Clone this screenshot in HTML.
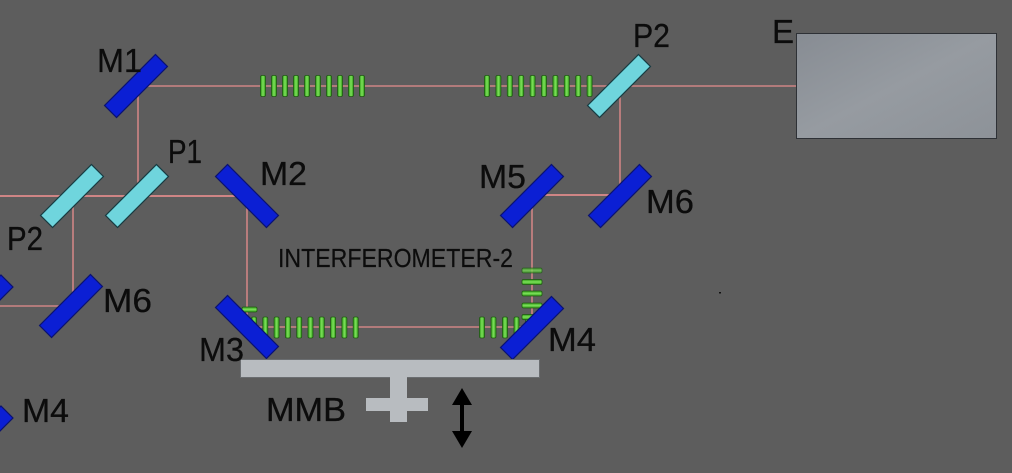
<!DOCTYPE html>
<html><head><meta charset="utf-8"><style>
html,body{margin:0;padding:0;background:#5d5d5d;}
svg{display:block;}
text{font-family:"Liberation Sans",sans-serif;fill:#0c0c0c;}
</style></head><body>
<svg width="1012" height="473" viewBox="0 0 1012 473" xmlns="http://www.w3.org/2000/svg">
<defs>
<linearGradient id="gb" x1="0" y1="0" x2="1" y2="0"><stop offset="0" stop-color="#2f9a18"/><stop offset="0.5" stop-color="#7ee35a"/><stop offset="1" stop-color="#2f9a18"/></linearGradient>
<linearGradient id="gh" x1="0" y1="0" x2="0" y2="1"><stop offset="0" stop-color="#2f9a18"/><stop offset="0.5" stop-color="#7ee35a"/><stop offset="1" stop-color="#2f9a18"/></linearGradient>
<linearGradient id="eb" x1="0" y1="0" x2="1" y2="1"><stop offset="0" stop-color="#878c93"/><stop offset="0.5" stop-color="#969ba1"/><stop offset="1" stop-color="#8d9298"/></linearGradient>
<g id="gv"><rect x="-2.5" y="-10.5" width="5" height="21" rx="1.5" fill="url(#gb)" stroke="#1f5a12" stroke-width="0.8"/></g>
<g id="ghz"><rect x="-10" y="-2.5" width="20" height="5" rx="1.5" fill="url(#gh)" stroke="#1f5a12" stroke-width="0.8"/></g>
<g id="mb"><rect x="-36" y="-8.5" width="72" height="17" fill="#0b1fd4" stroke="#0a1272" stroke-width="1.2"/></g>
<g id="pc"><rect x="-36" y="-8.5" width="72" height="17" fill="#6fd5dd" stroke="#183c42" stroke-width="1.2"/></g>
</defs>
<rect width="1012" height="473" fill="#5d5d5d"/>

<!-- beams -->
<g stroke="#cf8585" fill="none">
<line x1="138" y1="86" x2="797" y2="86" stroke-width="1.4"/>
<line x1="138" y1="86" x2="138" y2="196" stroke-width="1.6"/>
<line x1="0" y1="196" x2="247" y2="196" stroke-width="2"/>
<line x1="73" y1="196" x2="73" y2="306" stroke-width="1.6"/>
<line x1="0" y1="306" x2="71" y2="306" stroke-width="1.6"/>
<line x1="247" y1="196" x2="247" y2="327" stroke-width="1.6"/>
<line x1="247" y1="327" x2="532" y2="327" stroke-width="1.4"/>
<line x1="532" y1="196" x2="532" y2="327" stroke-width="1.6"/>
<line x1="532" y1="195" x2="620" y2="195" stroke-width="2"/>
<line x1="620" y1="86" x2="620" y2="196" stroke-width="1.6"/>
</g>

<!-- gratings top -->
<g>
<use href="#gv" x="263" y="86"/><use href="#gv" x="274" y="86"/><use href="#gv" x="285" y="86"/><use href="#gv" x="296" y="86"/><use href="#gv" x="307" y="86"/><use href="#gv" x="318" y="86"/><use href="#gv" x="329" y="86"/><use href="#gv" x="340" y="86"/><use href="#gv" x="351" y="86"/><use href="#gv" x="362" y="86"/>
<use href="#gv" x="487" y="86"/><use href="#gv" x="498.4" y="86"/><use href="#gv" x="509.8" y="86"/><use href="#gv" x="521.2" y="86"/><use href="#gv" x="532.6" y="86"/><use href="#gv" x="544" y="86"/><use href="#gv" x="555.4" y="86"/><use href="#gv" x="566.8" y="86"/><use href="#gv" x="578.2" y="86"/><use href="#gv" x="589.6" y="86"/>
</g>
<!-- gratings bottom -->
<g>
<use href="#gv" x="254" y="327.5"/><use href="#gv" x="265.3" y="327.5"/><use href="#gv" x="276.6" y="327.5"/><use href="#gv" x="287.9" y="327.5"/><use href="#gv" x="299.2" y="327.5"/><use href="#gv" x="310.5" y="327.5"/><use href="#gv" x="321.8" y="327.5"/><use href="#gv" x="333.1" y="327.5"/><use href="#gv" x="344.4" y="327.5"/><use href="#gv" x="355.7" y="327.5"/>
<use href="#gv" x="482" y="327.5"/><use href="#gv" x="493.5" y="327.5"/><use href="#gv" x="505" y="327.5"/><use href="#gv" x="516.5" y="327.5"/><use href="#gv" x="528" y="327.5"/>
<g opacity="0.75"><use href="#ghz" x="532" y="270.5"/></g>
<use href="#ghz" x="532" y="282"/><use href="#ghz" x="532" y="293.5"/><use href="#ghz" x="532" y="305.5"/><use href="#ghz" x="532" y="317"/>
<rect x="242" y="307" width="15" height="5" rx="1.5" fill="url(#gh)" stroke="#1f5a12" stroke-width="0.8"/>
</g>

<!-- mirrors -->
<use href="#mb" transform="translate(136,86) rotate(-45)"/>
<use href="#pc" transform="translate(137,196) rotate(-45)"/>
<use href="#pc" transform="translate(72,196) rotate(-45)"/>
<use href="#mb" transform="translate(247,196) rotate(45)"/>
<use href="#mb" transform="translate(247,327) rotate(45)"/>
<use href="#mb" transform="translate(532,328) rotate(-45)"/>
<use href="#mb" transform="translate(532,196) rotate(-45)"/>
<use href="#mb" transform="translate(620,196) rotate(-45)"/>
<use href="#pc" transform="translate(619,86) rotate(-45)"/>
<use href="#mb" transform="translate(71,306) rotate(-45)"/>
<use href="#mb" transform="translate(-18.5,306.5) rotate(-45)"/>
<use href="#mb" transform="translate(-18.5,437.5) rotate(-45)"/>

<!-- E box -->
<rect x="796.5" y="33.5" width="200" height="105" fill="url(#eb)" stroke="#2e3136" stroke-width="1"/>

<!-- MMB -->
<rect x="240.5" y="359.5" width="299" height="18" fill="#b8bcc0" stroke="#6a6d70" stroke-width="1"/>
<rect x="390" y="377" width="17" height="45" fill="#b8bcc0"/>
<rect x="366" y="398" width="62" height="13" fill="#b8bcc0"/>

<!-- arrow -->
<rect x="460" y="400" width="4" height="36" fill="#000"/>
<polygon points="462,388 452,405 472,405" fill="#000"/>
<polygon points="462,448 452,431 472,431" fill="#000"/>

<rect x="719" y="292" width="2" height="1.5" fill="#111"/>

<!-- labels -->
<g font-size="33" stroke="#0c0c0c" stroke-width="0.3">
<text x="97" y="72" textLength="45" lengthAdjust="spacingAndGlyphs">M1</text>
<text x="168" y="163" textLength="34" lengthAdjust="spacingAndGlyphs">P1</text>
<text x="260" y="185" textLength="47" lengthAdjust="spacingAndGlyphs">M2</text>
<text x="7" y="250" textLength="36" lengthAdjust="spacingAndGlyphs">P2</text>
<text x="103" y="312" textLength="49" lengthAdjust="spacingAndGlyphs">M6</text>
<text x="22" y="422" textLength="47" lengthAdjust="spacingAndGlyphs">M4</text>
<text x="199" y="361" textLength="45" lengthAdjust="spacingAndGlyphs">M3</text>
<text x="266" y="421" textLength="80" lengthAdjust="spacingAndGlyphs">MMB</text>
<text x="548" y="351" textLength="48" lengthAdjust="spacingAndGlyphs">M4</text>
<text x="479" y="188" textLength="47" lengthAdjust="spacingAndGlyphs">M5</text>
<text x="646" y="213" textLength="48" lengthAdjust="spacingAndGlyphs">M6</text>
<text x="633" y="47" textLength="37" lengthAdjust="spacingAndGlyphs">P2</text>
<text x="772" y="43">E</text>
</g>
<text x="278" y="267" font-size="26" stroke="#0c0c0c" stroke-width="0.2" textLength="235" lengthAdjust="spacingAndGlyphs">INTERFEROMETER-2</text>
</svg>
</body></html>
